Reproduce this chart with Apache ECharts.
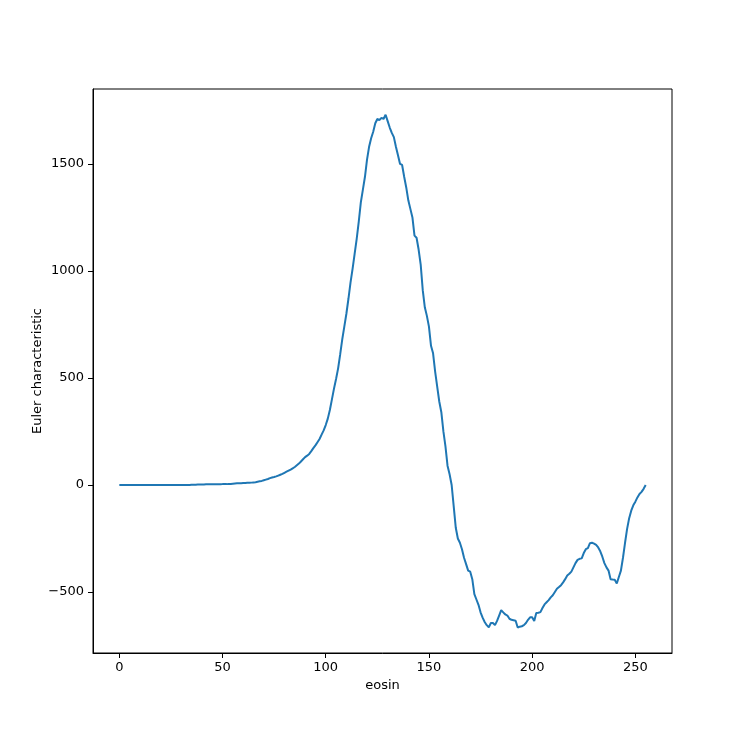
<!DOCTYPE html>
<html>
<head>
<meta charset="utf-8">
<script src="https://cdn.jsdelivr.net/npm/echarts@6/dist/echarts.min.js"></script>
<style>
  html, body { margin: 0; padding: 0; background: #fff; }
  #main { width: 747px; height: 747px; }
</style>
</head>
<body>
<div id="main"></div>
<script>
// Euler characteristic per eosin level (0..255)
var eulerValues = [
  0, 0, 0, 0, 0, 0, 0, 0, 0, 0,
  0, 0, 0, 0, 0, 0, 0, 0, 0, 0,
  0, 0, 0, 0, 0, 0, 0, 0, 0, 0,
  0, 0, 0, 0, 0, 1, 1, 1, 2, 2,
  2, 2, 3, 3, 3, 3, 3, 3, 3, 3,
  4, 4, 4, 5, 5, 6, 7, 8, 8, 8,
  9, 9, 10, 10, 11, 12, 13, 15, 17, 19,
  22, 25, 28, 32, 35, 37, 40, 44, 48, 52,
  57, 62, 67, 72, 78, 84, 92, 100, 110, 120,
  130, 137, 145, 158, 172, 185, 200, 215, 235, 255,
  280, 310, 350, 400, 450, 495, 545, 610, 680, 740,
  800, 870, 945, 1010, 1080, 1150, 1230, 1320, 1380, 1440,
  1520, 1580, 1620, 1650, 1690, 1710, 1705, 1715, 1710, 1730,
  1700, 1670, 1645, 1625, 1580, 1540, 1500, 1495, 1440, 1390,
  1330, 1290, 1250, 1165, 1155, 1100, 1030, 910, 830, 790,
  740, 650, 615, 530, 460, 390, 340, 250, 180, 90,
  50, 0, -100, -200, -250, -270, -300, -340, -370, -400,
  -405, -440, -510, -535, -560, -595, -620, -640, -655, -665,
  -645, -645, -655, -635, -610, -585, -595, -605, -610, -625,
  -630, -632, -634, -666, -662, -660, -655, -645, -630, -618,
  -618, -635, -598, -597, -594, -575, -558, -548, -538, -525,
  -515, -500, -485, -477, -468, -455, -440, -423, -415, -405,
  -385, -365, -350, -345, -343, -318, -300, -295, -272, -270,
  -274, -280, -292, -310, -335, -365, -385, -400, -440, -442,
  -443, -460, -430, -400, -340, -270, -205, -155, -120, -95,
  -78, -58, -42, -32, -18, 0
];
var xTicks = [0, 50, 100, 150, 200, 250];
var yTicks = [-500, 0, 500, 1000, 1500];

var points = [];
for (var i = 0; i < eulerValues.length; i++) {
  points.push([i, eulerValues[i]]);
}

function fmt(v) {
  return String(v).replace('-', '\u2212');
}

var font = 'DejaVu Sans';
var chart = echarts.init(document.getElementById('main'));
var option = {
  animation: false,
  backgroundColor: '#fff',
  grid: {
    left: 93, right: 75, top: 89, bottom: 94,
    show: true, borderColor: '#000', borderWidth: 1, backgroundColor: 'transparent'
  },
  xAxis: {
    type: 'value',
    min: -12.75,
    max: 267.75,
    name: 'eosin',
    nameLocation: 'middle',
    nameGap: 26,
    nameMoveOverlap: false,
    nameTextStyle: { color: '#000', fontFamily: font, fontSize: 13 },
    axisLine: { show: true, onZero: false, lineStyle: { color: '#000', width: 1 } },
    axisTick: { show: true, inside: false, length: 5, customValues: xTicks, lineStyle: { color: '#000' } },
    axisLabel: { customValues: xTicks, margin: 8, color: '#000', fontFamily: font, fontSize: 13, formatter: fmt },
    splitLine: { show: false }
  },
  yAxis: {
    type: 'value',
    min: -785,
    max: 1850,
    name: 'Euler characteristic',
    nameLocation: 'middle',
    nameGap: 49,
    nameMoveOverlap: false,
    nameTextStyle: { color: '#000', fontFamily: font, fontSize: 13 },
    axisLine: { show: true, onZero: false, lineStyle: { color: '#000', width: 1 } },
    axisTick: { show: true, inside: false, length: 5, customValues: yTicks, lineStyle: { color: '#000' } },
    axisLabel: { customValues: yTicks, margin: 9, color: '#000', fontFamily: font, fontSize: 13, formatter: fmt },
    splitLine: { show: false }
  },
  series: [{
    type: 'line',
    data: points,
    showSymbol: false,
    lineStyle: { color: '#1f77b4', width: 2 },
    itemStyle: { color: '#1f77b4' }
  }]
};
chart.setOption(option);
</script>
</body>
</html>
